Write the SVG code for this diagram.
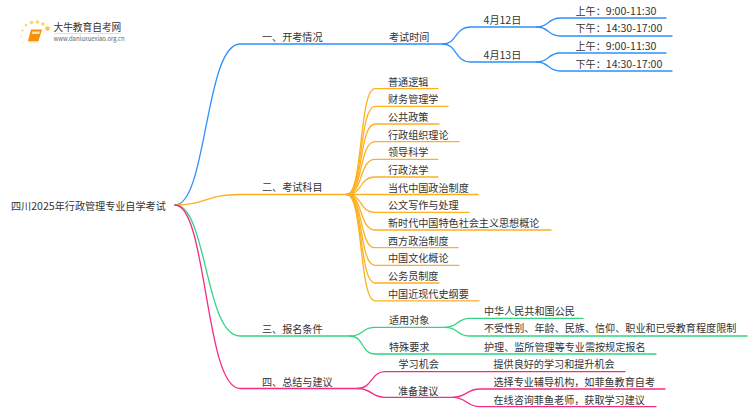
<svg xmlns="http://www.w3.org/2000/svg" width="750" height="410" viewBox="0 0 750 410">
<style>
text{font-family:"Noto Sans CJK SC","Noto Sans",sans-serif;font-size:10.100px;fill:#333}
tspan{font-size:10.600px}
.c{fill:none;stroke-width:1.300;stroke-linecap:round}
.b{stroke:#2e90fa}.o{stroke:#fdb022}.g{stroke:#32d583}.p{stroke:#f62b84}
</style>
<rect width="750" height="410" fill="#fff"/>
<g id="logo">
<g fill="#fdd36a"><circle cx="47.500" cy="28.500" r="2.200" fill="#fbc24a"/><circle cx="43" cy="24" r="1.800"/><circle cx="37.500" cy="22" r="1.800"/><circle cx="31.500" cy="22.500" r="1.700"/><circle cx="26" cy="25" r="1.300"/><circle cx="22.500" cy="30.500" r="1.100"/><circle cx="21.500" cy="36.500" r="0.900" opacity=".7"/><circle cx="23.500" cy="42.500" r="0.800" opacity=".5"/></g>
<path d="M31 29.500H42L38.500 41H28Z" fill="#f79009"/><path d="M32.500 31.500H40L39.300 34H31.800Z" fill="#fde4a8"/><path d="M28 41H38.500L38 42.500H28.500Z" fill="#fdd9a0"/>
<text x="53.500" y="30.500" style="font-size:9.700px">大牛教育自考网</text>
<rect x="54" y="33" width="67" height="0.600" fill="#ccc"/>
<text x="53.500" y="40.500" style="font-size:5.900px;fill:#666">www.daniuxuexiao.org.cn</text>
</g>
<g id="connectors">
<path class="c b" d="M175 205C207 205 205 44 240 44H443"/>
<path class="c b" d="M443 44C457 44 455 27 470 27H537"/>
<path class="c b" d="M443 44C457 44 455 62 470 62H537"/>
<path class="c b" d="M537 27C549 27 548 18 560 18H666"/>
<path class="c b" d="M537 27C549 27 548 36 560 36H672"/>
<path class="c b" d="M537 62C549 62 548 53 560 53H666"/>
<path class="c b" d="M537 62C549 62 548 71 560 71H672"/>
<path class="c o" d="M175 205C207 205 205 194.500 240 194.500H347"/>
<path class="c o" d="M347 194.500C363 194.500 359 88.700 375 88.700H438"/>
<path class="c o" d="M347 194.500C363 194.500 359 106.400 375 106.400H448"/>
<path class="c o" d="M347 194.500C363 194.500 359 124 375 124H439"/>
<path class="c o" d="M347 194.500C363 194.500 359 141.700 375 141.700H459"/>
<path class="c o" d="M347 194.500C363 194.500 359 159.400 375 159.400H438"/>
<path class="c o" d="M347 194.500C363 194.500 359 177 375 177H438"/>
<path class="c o" d="M347 194.500H478"/>
<path class="c o" d="M347 194.500C363 194.500 359 212.400 375 212.400H469"/>
<path class="c o" d="M347 194.500C363 194.500 359 230 375 230H551"/>
<path class="c o" d="M347 194.500C363 194.500 359 247.700 375 247.700H458"/>
<path class="c o" d="M347 194.500C363 194.500 359 265.400 375 265.400H459"/>
<path class="c o" d="M347 194.500C363 194.500 359 283 375 283H439"/>
<path class="c o" d="M347 194.500C363 194.500 359 300.800 375 300.800H479"/>
<path class="c g" d="M175 205C207 205 205 336 240 336H350"/>
<path class="c g" d="M350 336C364 336 361 327.300 375 327.300H445"/>
<path class="c g" d="M350 336C364 336 361 354 375 354H656"/>
<path class="c g" d="M445 327.300C459 327.300 456 318.300 470 318.300H583"/>
<path class="c g" d="M445 327.300C459 327.300 456 336 470 336H747"/>
<path class="c p" d="M175 205C207 205 205 388.500 240 388.500H358"/>
<path class="c p" d="M358 388.500C372 388.500 371 371.700 385 371.700H625"/>
<path class="c p" d="M358 388.500C372 388.500 371 397.300 385 397.300H453"/>
<path class="c p" d="M453 397.300C467 397.300 466 389 480 389H665"/>
<path class="c p" d="M453 397.300C467 397.300 466 406.700 480 406.700H656"/>
</g>
<g id="root"><text x="11" y="209.500">四川<tspan>2025</tspan>年行政管理专业自学考试</text></g>
<g id="n1"><text x="262" y="41">一、开考情况</text></g>
<g id="n1-1"><text x="389" y="41">考试时间</text></g>
<g id="n1-1-1"><text x="483.500" y="23.500"><tspan>4</tspan>月<tspan>12</tspan>日</text></g>
<g id="n1-1-2"><text x="483.500" y="59"><tspan>4</tspan>月<tspan>13</tspan>日</text></g>
<g id="n1-1-1-1"><text x="575.500" y="14.500">上午：<tspan>9:00-11:30</tspan></text></g>
<g id="n1-1-1-2"><text x="575.500" y="32">下午：<tspan>14:30-17:00</tspan></text></g>
<g id="n1-1-2-1"><text x="575.500" y="50">上午：<tspan>9:00-11:30</tspan></text></g>
<g id="n1-1-2-2"><text x="575.500" y="67.500">下午：<tspan>14:30-17:00</tspan></text></g>
<g id="n2"><text x="262" y="191">二、考试科目</text></g>
<g id="n2-1"><text x="388" y="85.500">普通逻辑</text></g>
<g id="n2-2"><text x="388" y="103">财务管理学</text></g>
<g id="n2-3"><text x="388" y="120.500">公共政策</text></g>
<g id="n2-4"><text x="388" y="138.500">行政组织理论</text></g>
<g id="n2-5"><text x="388" y="156">领导科学</text></g>
<g id="n2-6"><text x="388" y="174">行政法学</text></g>
<g id="n2-7"><text x="388" y="191.500">当代中国政治制度</text></g>
<g id="n2-8"><text x="388" y="209">公文写作与处理</text></g>
<g id="n2-9"><text x="388" y="227">新时代中国特色社会主义思想概论</text></g>
<g id="n2-10"><text x="388" y="244.500">西方政治制度</text></g>
<g id="n2-11"><text x="388" y="262">中国文化概论</text></g>
<g id="n2-12"><text x="388" y="280">公务员制度</text></g>
<g id="n2-13"><text x="388" y="297.500">中国近现代史纲要</text></g>
<g id="n3"><text x="262" y="333">三、报名条件</text></g>
<g id="n3-1"><text x="389" y="323.700">适用对象</text></g>
<g id="n3-2"><text x="389" y="350.500">特殊要求</text></g>
<g id="n3-1-1"><text x="484" y="314.700">中华人民共和国公民</text></g>
<g id="n3-1-2"><text x="484" y="332">不受性别、年龄、民族、信仰、职业和已受教育程度限制</text></g>
<g id="n3-2-1"><text x="484" y="350.500">护理、监所管理等专业需按规定报名</text></g>
<g id="n4"><text x="262" y="385.700">四、总结与建议</text></g>
<g id="n4-1"><text x="398.500" y="368">学习机会</text></g>
<g id="n4-2"><text x="398" y="394.700">准备建议</text></g>
<g id="n4-1-1"><text x="493.500" y="368">提供良好的学习和提升机会</text></g>
<g id="n4-2-1"><text x="493.500" y="385.700">选择专业辅导机构，如菲鱼教育自考</text></g>
<g id="n4-2-2"><text x="493.500" y="403.700">在线咨询菲鱼老师，获取学习建议</text></g>
</svg>
